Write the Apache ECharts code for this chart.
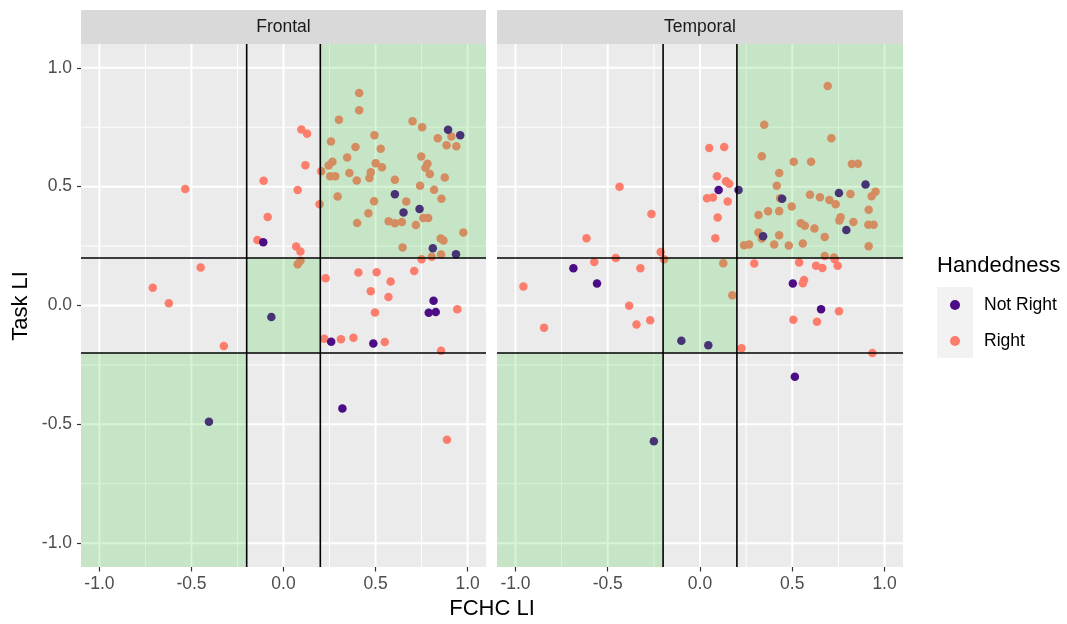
<!DOCTYPE html>
<html>
<head>
<meta charset="utf-8">
<script src="https://cdn.jsdelivr.net/npm/echarts@6/dist/echarts.min.js"></script>
<style>
html, body { margin: 0; background: #fff; }
#chart { width: 1067px; height: 624px; }
</style>
</head>
<body>
<div id="chart"></div>
<script>
// panels and legend groups
const panels = ['Frontal', 'Temporal'];
const groups = ['Not Right', 'Right'];

// axis breaks (same on x and y)
const majorBreaks = [-1, -0.5, 0, 0.5, 1];
const minorBreaks = [-0.75, -0.25, 0.25, 0.75];
const cutoffs = [-0.2, 0.2];
// shaded agreement zones: [x1, x2, y1, y2]
const zones = [
    [0.2, 1.1, 0.2, 1.1],
    [-0.2, 0.2, -0.2, 0.2],
    [-1.1, -0.2, -1.1, -0.2]
];

// [FCHC LI, Task LI]
const frontalNotRight = [
    [-0.11, 0.266], [-0.066, -0.048], [-0.405, -0.489], [0.259, -0.152], [0.488, -0.16],
    [0.32, -0.433], [0.815, 0.02], [0.789, -0.031], [0.827, -0.027], [0.894, 0.739],
    [0.96, 0.716], [0.605, 0.468], [0.652, 0.391], [0.739, 0.406], [0.811, 0.241], [0.937, 0.216]
];
const frontalRight = [
    [-0.534, 0.49], [-0.108, 0.525], [-0.086, 0.372], [-0.142, 0.276], [-0.45, 0.16],
    [-0.71, 0.075], [-0.623, 0.009], [-0.324, -0.17],
    [0.097, 0.74], [0.128, 0.722], [0.119, 0.59], [0.077, 0.486], [0.196, 0.426],
    [0.069, 0.248], [0.092, 0.227], [0.205, 0.565], [0.077, 0.174], [0.092, 0.188],
    [0.229, 0.115], [0.407, 0.139], [0.506, 0.14], [0.582, 0.101], [0.474, 0.06],
    [0.57, 0.036], [0.71, 0.145], [0.75, 0.195], [0.944, -0.016], [0.497, -0.029],
    [0.222, -0.14], [0.312, -0.142], [0.38, -0.136], [0.55, -0.154], [0.856, -0.19], [0.888, -0.565],
    [0.411, 0.894], [0.411, 0.821], [0.301, 0.781], [0.701, 0.775], [0.753, 0.75], [0.494, 0.716],
    [0.258, 0.69], [0.838, 0.704], [0.912, 0.711], [0.886, 0.674], [0.939, 0.67], [0.391, 0.667],
    [0.528, 0.659], [0.346, 0.623], [0.748, 0.627], [0.266, 0.605], [0.245, 0.589], [0.501, 0.598],
    [0.535, 0.582], [0.782, 0.596], [0.771, 0.579], [0.795, 0.553], [0.474, 0.56], [0.467, 0.536],
    [0.254, 0.544], [0.281, 0.544], [0.358, 0.557], [0.398, 0.526], [0.605, 0.529], [0.876, 0.538],
    [0.742, 0.504], [0.818, 0.487], [0.294, 0.459], [0.858, 0.449], [0.492, 0.439], [0.667, 0.437],
    [0.461, 0.388], [0.4, 0.347], [0.571, 0.354], [0.605, 0.346], [0.643, 0.351], [0.719, 0.339],
    [0.759, 0.368], [0.786, 0.368], [0.977, 0.307], [0.854, 0.282], [0.869, 0.273], [0.647, 0.244],
    [0.805, 0.205], [0.856, 0.215]
];
const temporalNotRight = [
    [0.101, 0.486], [0.209, 0.486], [0.445, 0.449], [0.753, 0.473], [0.897, 0.509],
    [0.793, 0.318], [0.342, 0.291], [-0.686, 0.157], [-0.558, 0.093], [-0.101, -0.148],
    [0.045, -0.167], [-0.25, -0.571], [0.503, 0.093], [0.656, -0.016], [0.514, -0.3]
];
const temporalRight = [
    [-0.436, 0.5], [-0.263, 0.385], [-0.615, 0.283], [-0.213, 0.225], [-0.456, 0.2],
    [-0.573, 0.183], [-0.957, 0.08], [-0.845, -0.094], [-0.384, -0.001], [-0.344, -0.08],
    [-0.27, -0.062], [-0.323, 0.157], [-0.195, 0.195],
    [0.05, 0.663], [0.131, 0.667], [0.092, 0.544], [0.141, 0.523], [0.158, 0.512],
    [0.038, 0.451], [0.07, 0.454], [0.15, 0.437], [0.096, 0.37], [0.083, 0.283],
    [0.126, 0.178], [0.175, 0.043],
    [0.225, -0.18], [0.294, 0.177], [0.537, 0.181], [0.629, 0.167], [0.663, 0.158],
    [0.73, 0.195], [0.746, 0.167], [0.564, 0.107], [0.557, 0.094], [0.753, -0.024],
    [0.506, -0.06], [0.634, -0.068], [0.934, -0.2],
    [0.692, 0.923], [0.348, 0.76], [0.712, 0.704], [0.335, 0.628], [0.508, 0.605],
    [0.602, 0.605], [0.823, 0.595], [0.856, 0.596], [0.429, 0.557], [0.416, 0.504],
    [0.434, 0.451], [0.596, 0.466], [0.65, 0.455], [0.815, 0.469], [0.951, 0.479],
    [0.93, 0.46], [0.701, 0.444], [0.735, 0.426], [0.497, 0.416], [0.429, 0.397],
    [0.369, 0.396], [0.317, 0.381], [0.914, 0.403], [0.762, 0.371], [0.755, 0.358],
    [0.831, 0.351], [0.546, 0.346], [0.568, 0.335], [0.62, 0.324], [0.912, 0.34],
    [0.941, 0.34], [0.317, 0.307], [0.335, 0.282], [0.429, 0.296], [0.676, 0.288],
    [0.239, 0.253], [0.266, 0.257], [0.402, 0.257], [0.481, 0.252], [0.557, 0.261],
    [0.914, 0.249], [0.676, 0.208], [0.726, 0.202]
];

const panelData = [
    {notRight: frontalNotRight, right: frontalRight},
    {notRight: temporalNotRight, right: temporalRight}
];

const colors = {'Not Right': '#4B0C86', 'Right': '#FD7D6C'};
const font = '"Liberation Sans", Arial, Helvetica, sans-serif';

const gridItems = [
    ...majorBreaks.map(v => [v, 0, 1]), ...minorBreaks.map(v => [v, 0, 0]),
    ...majorBreaks.map(v => [v, 1, 1]), ...minorBreaks.map(v => [v, 1, 0])
];
const cutoffItems = [...cutoffs.map(v => [v, 0]), ...cutoffs.map(v => [v, 1])];

function lineShape(params, api) {
    const cs = params.coordSys;
    const v = api.value(0);
    if (api.value(1) === 1) {
        const y = api.coord([0, v])[1];
        return {x1: cs.x, y1: y, x2: cs.x + cs.width, y2: y};
    }
    const x = api.coord([v, 0])[0];
    return {x1: x, y1: cs.y, x2: x, y2: cs.y + cs.height};
}

function renderGridLine(params, api) {
    return {
        type: 'line',
        shape: lineShape(params, api),
        style: {stroke: '#ffffff', lineWidth: api.value(2) === 1 ? 2 : 1}
    };
}

function renderCutoff(params, api) {
    return {
        type: 'line',
        shape: lineShape(params, api),
        style: {stroke: '#000000', lineWidth: 1.6}
    };
}

function renderZone(params, api) {
    const p1 = api.coord([api.value(0), api.value(3)]);
    const p2 = api.coord([api.value(1), api.value(2)]);
    return {
        type: 'rect',
        shape: {x: p1[0], y: p1[1], width: p2[0] - p1[0], height: p2[1] - p1[1]},
        style: {fill: 'rgba(50, 205, 50, 0.2)'}
    };
}

const gridBoxes = [
    {left: 81, top: 44, width: 405, height: 523},
    {left: 497, top: 44, width: 406, height: 523}
];

const chart = echarts.init(document.getElementById('chart'));

const series = [];
panelData.forEach((p, i) => {
    const axes = {xAxisIndex: i, yAxisIndex: i};
    series.push({type: 'custom', ...axes, z: 1, silent: true, renderItem: renderGridLine, data: gridItems});
    series.push({
        type: 'scatter', name: 'Right', ...axes, z: 2, symbolSize: 8.5,
        itemStyle: {color: colors['Right'], opacity: 1}, data: p.right
    });
    series.push({
        type: 'scatter', name: 'Not Right', ...axes, z: 2, symbolSize: 8.5,
        itemStyle: {color: colors['Not Right'], opacity: 1}, data: p.notRight
    });
    series.push({type: 'custom', ...axes, z: 3, silent: true, renderItem: renderZone, data: zones});
    series.push({type: 'custom', ...axes, z: 4, silent: true, renderItem: renderCutoff, data: cutoffItems});
});

const tickLabel = v => v.toFixed(1);

chart.setOption({
    animation: false,
    textStyle: {fontFamily: font},
    grid: gridBoxes.map(g => ({
        ...g, show: true, backgroundColor: '#EBEBEB', borderWidth: 0,
        containLabel: false, outerBoundsMode: 'none'
    })),
    xAxis: panels.map((name, i) => ({
        type: 'value', gridIndex: i, min: -1.1, max: 1.1, position: 'bottom',
        axisLine: {show: false, onZero: false},
        splitLine: {show: false},
        axisTick: {show: true, customValues: majorBreaks, length: 4.5, lineStyle: {color: '#333333', width: 1.2}},
        axisLabel: {
            customValues: majorBreaks, formatter: tickLabel, margin: 8,
            fontSize: 17.5, color: '#4D4D4D', fontFamily: font
        }
    })),
    yAxis: panels.map((name, i) => ({
        type: 'value', gridIndex: i, min: -1.1, max: 1.1, position: 'left',
        axisLine: {show: false, onZero: false},
        splitLine: {show: false},
        axisTick: {show: i === 0, customValues: majorBreaks, length: 4, lineStyle: {color: '#333333', width: 1.2}},
        axisLabel: {
            show: i === 0, customValues: majorBreaks, formatter: tickLabel, margin: 9,
            fontSize: 17.5, color: '#4D4D4D', fontFamily: font
        }
    })),
    legend: {
        data: groups,
        orient: 'vertical',
        left: 950,
        top: 296,
        padding: 0,
        icon: 'circle',
        itemWidth: 10,
        itemHeight: 10,
        itemGap: 18,
        selectedMode: false,
        textStyle: {fontSize: 17.5, color: '#000000', fontFamily: font, padding: [0, 0, 0, 19]}
    },
    graphic: [
        ...panels.map((name, i) => ({
            type: 'group',
            children: [
                {
                    type: 'rect', shape: {x: gridBoxes[i].left, y: 10, width: gridBoxes[i].width, height: 34},
                    style: {fill: '#D9D9D9'}
                },
                {
                    type: 'text', x: gridBoxes[i].left + gridBoxes[i].width / 2, y: 27,
                    style: {text: name, fontSize: 17.5, fill: '#1A1A1A', fontFamily: font, align: 'center', verticalAlign: 'middle'}
                }
            ]
        })),
        {
            type: 'rect', shape: {x: 937, y: 287, width: 36, height: 71}, z: -1,
            style: {fill: '#F2F2F2'}
        },
        {
            type: 'text', x: 937, y: 266,
            style: {text: 'Handedness', fontSize: 22, fill: '#000000', fontFamily: font, verticalAlign: 'middle'}
        },
        {
            type: 'text', x: 492, y: 609,
            style: {text: 'FCHC LI', fontSize: 22, fill: '#000000', fontFamily: font, align: 'center', verticalAlign: 'middle'}
        },
        {
            type: 'text', x: 21, y: 306, rotation: Math.PI / 2,
            style: {text: 'Task LI', fontSize: 22, fill: '#000000', fontFamily: font, align: 'center', verticalAlign: 'middle'}
        }
    ],
    series: series
});
</script>
</body>
</html>
